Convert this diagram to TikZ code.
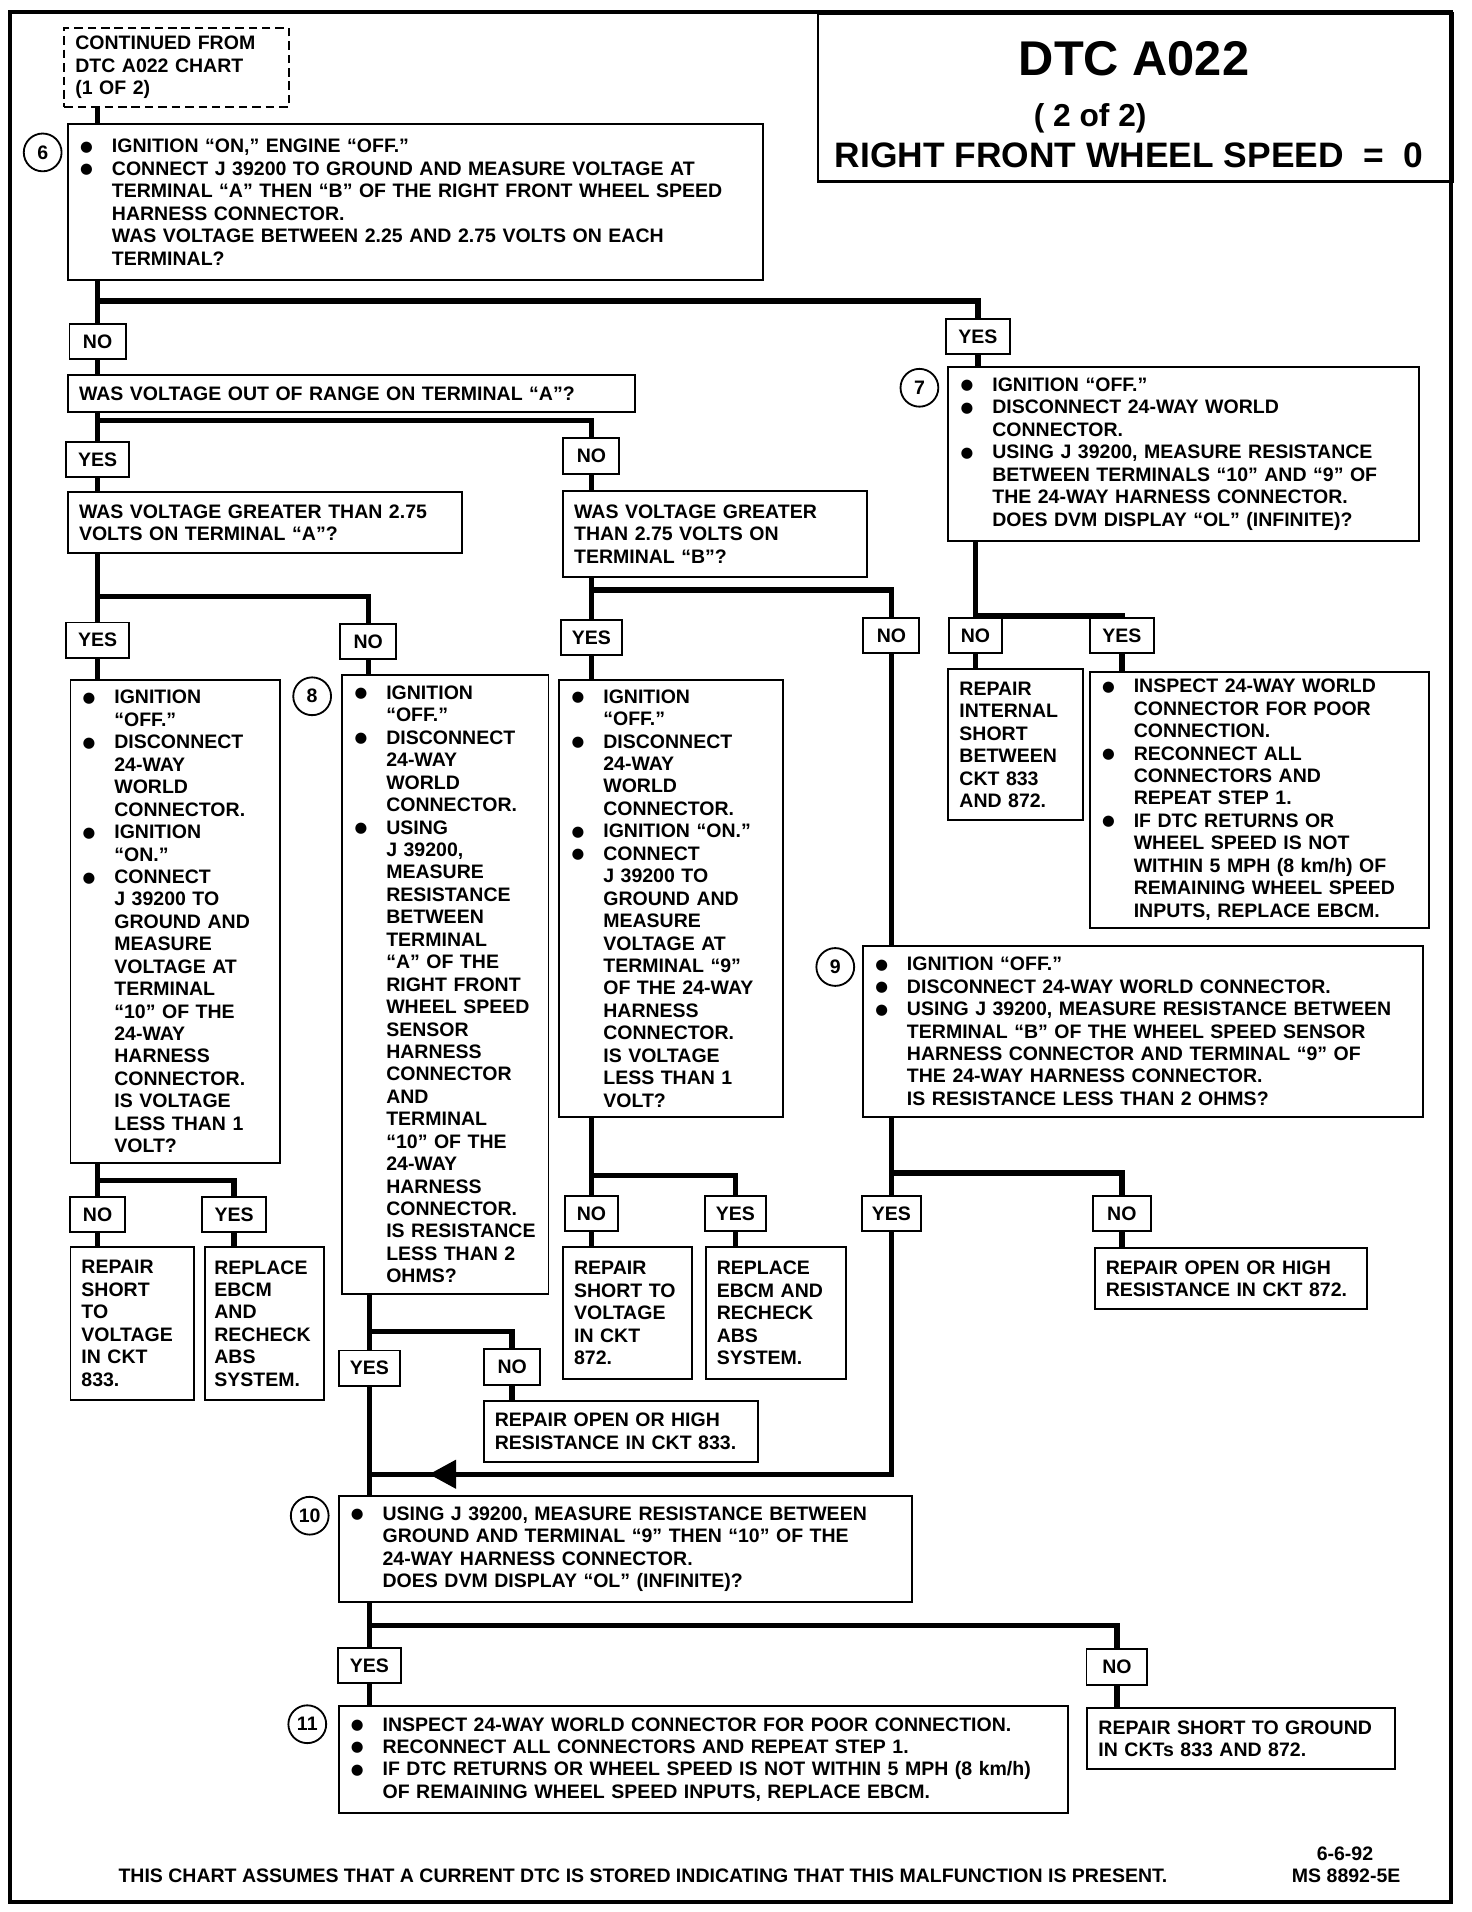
\documentclass[tikz,border=0pt]{standalone}
\usepackage{fontspec}
\setmainfont{Liberation Sans}
\newfontfamily\dejavu{DejaVu Sans}
\usetikzlibrary{calc}
\newcommand\chartfont{\fontsize{16}{18.4}\selectfont\bfseries}
\newcommand\bulx{\makebox[27pt][l]{\hspace{1pt}\raisebox{1.2pt}{\dejavu\fontsize{12}{12}\selectfont ●}}}
\newcommand\indx{\hspace*{27pt}}
\begin{document}
\begin{tikzpicture}[x=1pt,y=-1pt,
  box/.style={draw, line width=1.6pt, inner xsep=9pt, inner ysep=3pt, anchor=north west, align=left, font=\chartfont},
  lab/.style={draw, line width=1.6pt, inner sep=0pt, minimum height=29pt, minimum width=#1, font=\chartfont},
  lab/.default=50pt,
  conn/.style={line width=4.5pt},
  num/.style={draw, circle, line width=1.5pt, minimum size=31pt, inner sep=0pt, font=\chartfont},
  txt/.style={inner sep=0pt, font=\chartfont}]
\useasboundingbox (0,0) rectangle (1207,1568);
\draw[line width=3pt] (8,10) rectangle (1190,1560);

% title
\node[draw, line width=2pt, anchor=north west, minimum width=520pt, minimum height=138pt] (title) at (670,10) {};
\node[txt, font=\fontsize{40}{40}\selectfont\bfseries] (t1) at (930,48) {DTC A022};
\node[txt, font=\fontsize{26}{26}\selectfont\bfseries] (t2) at (894,97) {( 2 of 2)};
\node[txt, font=\fontsize{29}{29}\selectfont\bfseries] (t3) at (926,127) {RIGHT FRONT WHEEL SPEED \ = \ 0};

% start
\node[box, dashed, dash pattern=on 7pt off 4pt, text width=166pt, minimum height=65pt] (cont) at (52,22) {CONTINUED FROM\\DTC A022 CHART\\(1 OF 2)};

% step 6
\node[num] (c6) at (35,125) {6};
\node[box, text width=552pt, minimum height=128pt] (n6) at (55,101) {\bulx IGNITION “ON,” ENGINE “OFF.”\\ \bulx CONNECT J 39200 TO GROUND AND MEASURE VOLTAGE AT\\ \indx TERMINAL “A” THEN “B” OF THE RIGHT FRONT WHEEL SPEED\\ \indx HARNESS CONNECTOR.\\ \indx WAS VOLTAGE BETWEEN 2.25 AND 2.75 VOLTS ON EACH\\ \indx TERMINAL?};

\node[lab=46pt] (no1) at (80,280) {NO};
\node[lab=52pt] (yes1) at (802,276) {YES};

\node[box, text width=447pt, minimum height=30pt] (qa) at (55,307) {WAS VOLTAGE OUT OF RANGE ON TERMINAL “A”?};
\node[lab=52pt] (yes2) at (80,377) {YES};
\node[lab=46pt] (no2) at (485,374) {NO};

\node[box, text width=305pt, minimum height=50pt] (qga) at (55,403) {WAS VOLTAGE GREATER THAN 2.75\\VOLTS ON TERMINAL “A”?};
\node[box, text width=231pt, minimum height=70pt] (qgb) at (461,402) {WAS VOLTAGE GREATER\\THAN 2.75 VOLTS ON\\TERMINAL “B”?};

\node[lab=52pt] (yes3) at (80,525) {YES};
\node[lab=46pt] (no3) at (302,526) {NO};
\node[lab=50pt] (yes4) at (485,523) {YES};
\node[lab=46pt] (no4) at (731,521) {NO};

% left column
\node[box, text width=154pt, minimum height=396pt] (nl) at (57,557) {\bulx IGNITION\\ \indx “OFF.”\\ \bulx DISCONNECT\\ \indx 24-WAY\\ \indx WORLD\\ \indx CONNECTOR.\\ \bulx IGNITION\\ \indx “ON.”\\ \bulx CONNECT\\ \indx J 39200 TO\\ \indx GROUND AND\\ \indx MEASURE\\ \indx VOLTAGE AT\\ \indx TERMINAL\\ \indx “10” OF THE\\ \indx 24-WAY\\ \indx HARNESS\\ \indx CONNECTOR.\\ \indx IS VOLTAGE\\ \indx LESS THAN 1\\ \indx VOLT?};

% step 8
\node[num] (c8) at (256,571) {8};
\node[box, text width=151pt, minimum height=507pt] (n8) at (280,553) {\bulx IGNITION\\ \indx “OFF.”\\ \bulx DISCONNECT\\ \indx 24-WAY\\ \indx WORLD\\ \indx CONNECTOR.\\ \bulx USING\\ \indx J 39200,\\ \indx MEASURE\\ \indx RESISTANCE\\ \indx BETWEEN\\ \indx TERMINAL\\ \indx “A” OF THE\\ \indx RIGHT FRONT\\ \indx WHEEL SPEED\\ \indx SENSOR\\ \indx HARNESS\\ \indx CONNECTOR\\ \indx AND\\ \indx TERMINAL\\ \indx “10” OF THE\\ \indx 24-WAY\\ \indx HARNESS\\ \indx CONNECTOR.\\ \indx IS RESISTANCE\\ \indx LESS THAN 2\\ \indx OHMS?};

% middle column
\node[box, text width=165pt, minimum height=358pt] (nm) at (458,557) {\bulx IGNITION\\ \indx “OFF.”\\ \bulx DISCONNECT\\ \indx 24-WAY\\ \indx WORLD\\ \indx CONNECTOR.\\ \bulx IGNITION “ON.”\\ \bulx CONNECT\\ \indx J 39200 TO\\ \indx GROUND AND\\ \indx MEASURE\\ \indx VOLTAGE AT\\ \indx TERMINAL “9”\\ \indx OF THE 24-WAY\\ \indx HARNESS\\ \indx CONNECTOR.\\ \indx IS VOLTAGE\\ \indx LESS THAN 1\\ \indx VOLT?};

% step 7
\node[num] (c7) at (754,318) {7};
\node[box, text width=368pt, minimum height=143pt] (n7) at (777,300) {\bulx IGNITION “OFF.”\\ \bulx DISCONNECT 24-WAY WORLD\\ \indx CONNECTOR.\\ \bulx USING J 39200, MEASURE RESISTANCE\\ \indx BETWEEN TERMINALS “10” AND “9” OF\\ \indx THE 24-WAY HARNESS CONNECTOR.\\ \indx DOES DVM DISPLAY “OL” (INFINITE)?};
\node[lab=44pt] (no8) at (800,521) {NO};
\node[lab=53pt] (yes8) at (920,521) {YES};
\node[box, text width=92pt, minimum height=124pt] (rint) at (777,548) {REPAIR\\INTERNAL\\SHORT\\BETWEEN\\CKT 833\\AND 872.};
\node[box, text width=260pt, minimum height=210pt] (ryes) at (893,550) {\bulx INSPECT 24-WAY WORLD\\ \indx CONNECTOR FOR POOR\\ \indx CONNECTION.\\ \bulx RECONNECT ALL\\ \indx CONNECTORS AND\\ \indx REPEAT STEP 1.\\ \bulx IF DTC RETURNS OR\\ \indx WHEEL SPEED IS NOT\\ \indx WITHIN 5 MPH (8 km/h) OF\\ \indx REMAINING WHEEL SPEED\\ \indx INPUTS, REPLACE EBCM.};

% step 9
\node[num] (c9) at (685,793) {9};
\node[box, text width=441pt, minimum height=140pt] (n9) at (707,775) {\bulx IGNITION “OFF.”\\ \bulx DISCONNECT 24-WAY WORLD CONNECTOR.\\ \bulx USING J 39200, MEASURE RESISTANCE BETWEEN\\ \indx TERMINAL “B” OF THE WHEEL SPEED SENSOR\\ \indx HARNESS CONNECTOR AND TERMINAL “9” OF\\ \indx THE 24-WAY HARNESS CONNECTOR.\\ \indx IS RESISTANCE LESS THAN 2 OHMS?};

% second level labels
\node[lab=45pt] (no5) at (80,996) {NO};
\node[lab=52pt] (yes5) at (192,996) {YES};
\node[lab=44pt] (no7) at (485,995) {NO};
\node[lab=50pt] (yes7) at (603,995) {YES};
\node[lab=48pt] (yes9) at (731,995) {YES};
\node[lab=48pt] (no9) at (920,995) {NO};
\node[lab=50pt] (yes6) at (303,1122) {YES};
\node[lab=46pt] (no6) at (420,1121) {NO};

% result boxes
\node[box, text width=83pt, minimum height=125pt] (rl1) at (57,1022) {REPAIR\\SHORT\\TO\\VOLTAGE\\IN CKT\\833.};
\node[box, inner xsep=8pt, text width=82pt, minimum height=125pt] (rl2) at (167,1022) {REPLACE\\EBCM\\AND\\RECHECK\\ABS\\SYSTEM.};
\node[box, text width=88pt, minimum height=108pt] (rm1) at (461,1022) {REPAIR\\SHORT TO\\VOLTAGE\\IN CKT\\872.};
\node[box, text width=97pt, minimum height=108pt] (rm2) at (578,1022) {REPLACE\\EBCM AND\\RECHECK\\ABS\\SYSTEM.};
\node[box, text width=205pt, minimum height=50pt] (r872) at (897,1023) {REPAIR OPEN OR HIGH\\RESISTANCE IN CKT 872.};
\node[box, text width=207pt, minimum height=50pt] (r833) at (396,1148) {REPAIR OPEN OR HIGH\\RESISTANCE IN CKT 833.};

% step 10
\node[num] (c10) at (254,1243) {10};
\node[box, text width=452pt, minimum height=87pt] (n10) at (277,1226) {\bulx USING J 39200, MEASURE RESISTANCE BETWEEN\\ \indx GROUND AND TERMINAL “9” THEN “10” OF THE\\ \indx 24-WAY HARNESS CONNECTOR.\\ \indx DOES DVM DISPLAY “OL” (INFINITE)?};
\node[lab=52pt] (yes10) at (303,1366) {YES};
\node[lab=50pt] (no10) at (916,1367) {NO};

% step 11
\node[num] (c11) at (252,1414) {11};
\node[box, text width=580pt, minimum height=88pt] (n11) at (277,1398) {\bulx INSPECT 24-WAY WORLD CONNECTOR FOR POOR CONNECTION.\\ \bulx RECONNECT ALL CONNECTORS AND REPEAT STEP 1.\\ \bulx IF DTC RETURNS OR WHEEL SPEED IS NOT WITHIN 5 MPH (8 km/h)\\ \indx OF REMAINING WHEEL SPEED INPUTS, REPLACE EBCM.};
\node[box, text width=234pt, minimum height=50pt] (rsg) at (891,1400) {REPAIR SHORT TO GROUND\\IN CKTs 833 AND 872.};

% footer
\node[txt, anchor=west] (foot) at (97,1538) {THIS CHART ASSUMES THAT A CURRENT DTC IS STORED INDICATING THAT THIS MALFUNCTION IS PRESENT.};
\node[txt] (date) at (1103,1520) {6-6-92};
\node[txt] (ms) at (1104,1538) {MS 8892-5E};

% connectors
\draw[conn] (cont.south -| no1) -- (n6.north -| no1);
\draw[conn] (n6.south -| no1) -- (no1.north);
\coordinate (f1) at (80,247);
\draw[conn] (f1) -| (yes1.north);
\draw[conn] (no1.south) -- (qa.north -| no1);
\draw[conn] (yes1.south) -- (n7.north -| yes1);
\draw[conn] (qa.south -| yes2) -- (yes2.north);
\coordinate (f2) at (80,345);
\draw[conn] (f2) -| (no2.north);
\draw[conn] (yes2.south) -- (qga.north -| yes2);
\draw[conn] (no2.south) -- (qgb.north -| no2);
\draw[conn] (qga.south -| yes3) -- (yes3.north);
\coordinate (f3) at (80,489);
\draw[conn] (f3) -| (no3.north);
\draw[conn] (qgb.south -| yes4) -- (yes4.north);
\coordinate (f4) at (485,484);
\draw[conn] (f4) -| (no4.north);
\draw[conn] (yes3.south) -- (nl.north -| yes3);
\draw[conn] (no3.south) -- (n8.north -| no3);
\draw[conn] (yes4.south) -- (nm.north -| yes4);
\draw[conn] (no4.south) -- (n9.north -| no4);
\draw[conn] (n7.south -| no8) -- (no8.north);
\coordinate (f5) at (800,505);
\draw[conn] (f5) -| (yes8.north);
\draw[conn] (no8.south) -- (rint.north -| no8);
\draw[conn] (yes8.south) -- (ryes.north -| yes8);
\draw[conn] (nl.south -| no5) -- (no5.north);
\coordinate (f6) at (80,968);
\draw[conn] (f6) -| (yes5.north);
\draw[conn] (no5.south) -- (rl1.north -| no5);
\draw[conn] (yes5.south) -- (rl2.north -| yes5);
\draw[conn] (n8.south -| yes6) -- (yes6.north);
\coordinate (f9) at (303,1092);
\draw[conn] (f9) -| (no6.north);
\draw[conn] (no6.south) -- (r833.north -| no6);
\draw[conn] (yes6.south) -- (n10.north -| yes6);
\draw[conn] (nm.south -| no7) -- (no7.north);
\coordinate (f7) at (485,964);
\draw[conn] (f7) -| (yes7.north);
\draw[conn] (no7.south) -- (rm1.north -| no7);
\draw[conn] (yes7.south) -- (rm2.north -| yes7);
\draw[conn] (n9.south -| yes9) -- (yes9.north);
\coordinate (f8) at (731,962);
\draw[conn] (f8) -| (no9.north);
\draw[conn] (no9.south) -- (r872.north -| no9);
\coordinate (j10) at (303,1209);
\draw[conn] (yes9.south) |- (j10);
\fill ($(j10)+(49,0)$) -- ++(22,-12) -- ++(0,24) -- cycle;
\draw[conn] (n10.south -| yes10) -- (yes10.north);
\coordinate (f10) at (303,1333);
\draw[conn] (f10) -| (no10.north);
\draw[conn] (yes10.south) -- (n11.north -| yes10);
\draw[conn] (no10.south) -- (rsg.north -| no10);
\end{tikzpicture}
\end{document}
